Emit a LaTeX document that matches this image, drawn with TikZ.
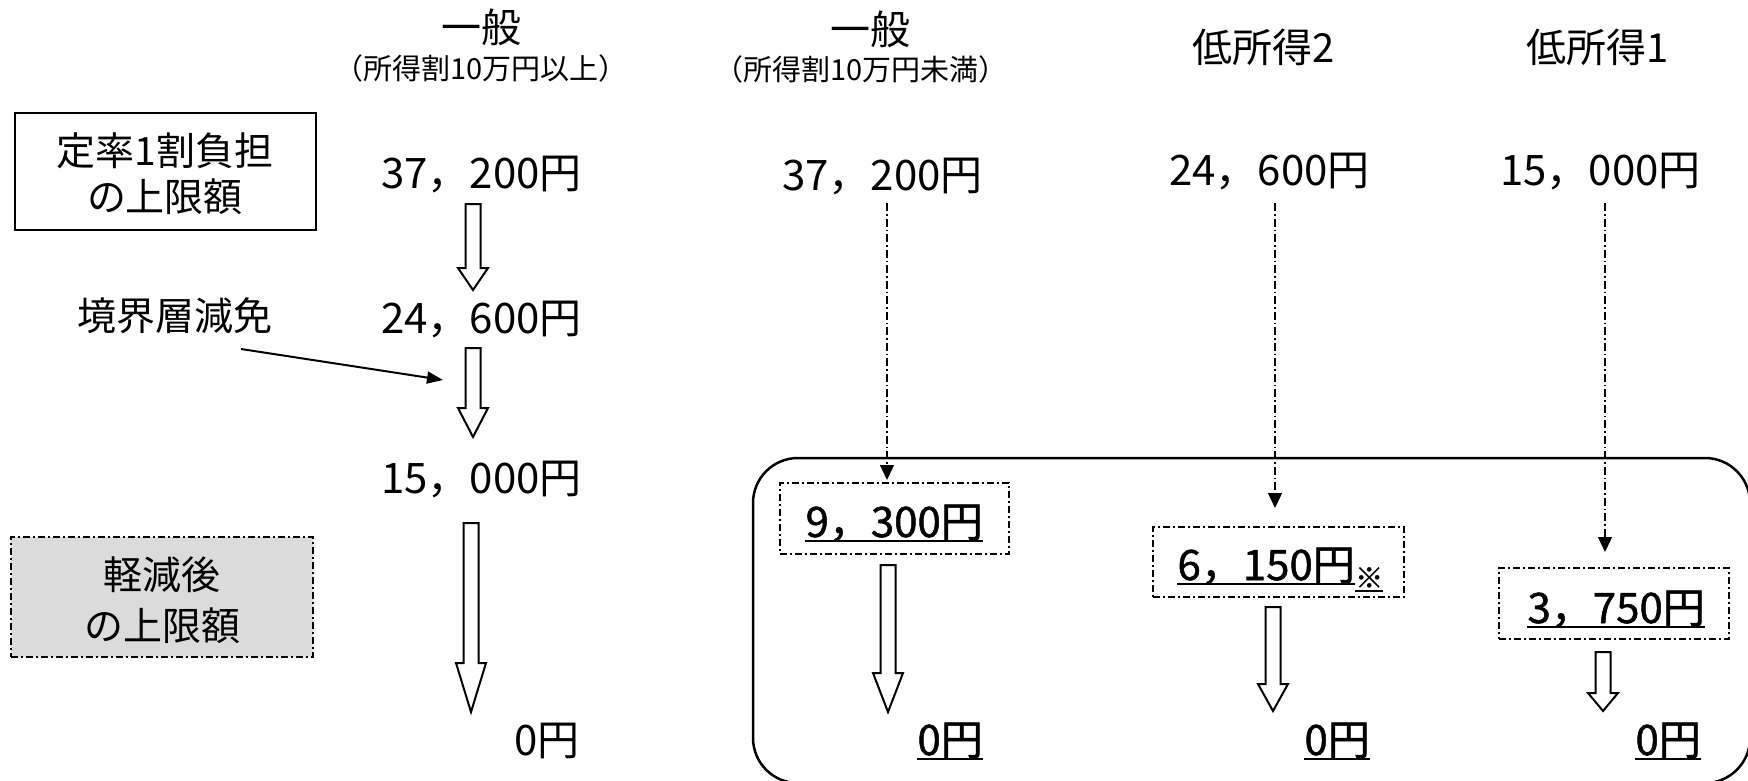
\documentclass[tikz,border=0pt]{standalone}
\usepackage{fontspec}
\newfontfamily\jp{Noto Sans CJK JP}
\newfontfamily\jpm[FakeBold=1.2]{Noto Sans CJK JP}
\usetikzlibrary{arrows.meta}
\tikzset{
  txt/.style={inner sep=0pt, font=\jp\fontsize{40}{46}\selectfont},
  sub/.style={inner sep=0pt, font=\jp\fontsize{29}{34}\selectfont},
  amt/.style={inner sep=0pt, anchor=base east, font=\jp\fontsize{42}{46}\selectfont},
  bamt/.style={inner sep=0pt, anchor=base east, font=\jpm\fontsize{42}{46}\selectfont},
  lbl/.style={inner sep=0pt, align=center, font=\jp\fontsize{39}{46}\selectfont},
  solidbox/.style={draw, line width=2pt},
  ddbox/.style={draw, line width=2.6pt, dash pattern=on 7pt off 3pt on 2pt off 3pt},
  ddline/.style={line width=1.4pt, dash pattern=on 8pt off 3pt on 1.5pt off 3pt,
     -{Triangle[length=15pt,width=14pt]}},
  hollow/.style={draw, line width=2pt, fill=white, line join=miter},
  uline/.style={line width=2.5pt},
  pointer/.style={line width=2pt, -{Triangle[length=16pt,width=12pt]}},
}
\newcommand\harrow[4]{%
  \draw[hollow] ({#1-7.5},{#2}) -- ({#1+7.5},{#2}) -- ({#1+7.5},{#3-#4}) -- ({#1+15},{#3-#4})
    -- ({#1},{#3}) -- ({#1-15},{#3-#4}) -- ({#1-7.5},{#3-#4}) -- cycle;}
\newcommand\uln[1]{\draw[uline] ([yshift=-4pt]#1.base west) -- ([yshift=-4pt]#1.base east);}
\begin{document}
\begin{tikzpicture}[x=1pt,y=-1pt]
\useasboundingbox (0,0) rectangle (1748,781);
\fill[white] (0,0) rectangle (1748,781);

% big rounded frame
\draw[line width=2.5pt, rounded corners=45pt] (753,458) rectangle (1750,783);

% column titles
\node[txt] (t1a) at (481,27) {一般};
\node[sub] (t1b) at (481,68) {（所得割10万円以上）};
\node[txt] (t2a) at (870,29) {一般};
\node[sub] (t2b) at (861,69) {（所得割10万円未満）};
\node[txt] (t3) at (1264,47) {低所得2};
\node[txt] (t4) at (1598,47) {低所得1};

% left labels
\node[solidbox, minimum width=301pt, minimum height=117pt] (bx1) at (165.5,171.5) {};
\node[lbl] (bx1t) at (165,174) {定率1割負担\\の上限額};
\node[ddbox, fill=black!14, minimum width=302pt, minimum height=120pt] (bx2) at (162,597) {};
\node[lbl, font=\jp\fontsize{39}{51}\selectfont] (bx2t) at (162,600) {軽減後\\の上限額};
\node[lbl] (kk) at (175,316) {境界層減免};
\coordinate (kks) at (241,349);
\coordinate (kke) at (443,380);
\draw[pointer] (kks) -- (kke);

% column 1
\node[amt] (a11) at (582,188) {37，200円};
\node[amt] (a12) at (582,333) {24，600円};
\node[amt] (a13) at (582,493) {15，000円};
\node[amt] (a14) at (580,755) {0円};
\harrow{473}{204}{290}{22}
\harrow{473}{348}{437}{29}
\harrow{471}{523}{712}{49}

% column 2
\node[amt] (a21) at (983,190) {37，200円};
\node[ddbox, minimum width=229pt, minimum height=71pt] (b2) at (894.5,518.5) {};
\node[bamt] (b2t) at (983,537) {9，300円};
\uln{b2t}
\node[bamt] (a22) at (983,755) {0円};
\uln{a22}
\coordinate (s2) at (887,203);
\coordinate (e2) at (887,480);
\draw[ddline] (s2) -- (e2);
\harrow{888}{565}{712}{39}

% column 3
\node[amt] (a31) at (1370,185) {24，600円};
\node[ddbox, minimum width=251pt, minimum height=70pt] (b3) at (1278.5,562) {};
\node[bamt] (b3t) at (1355,580) {6，150円};
\uln{b3t}
\node[inner sep=0pt, anchor=base west, font=\jpm\fontsize{28}{30}\selectfont] (b3n) at (1355,588) {※};
\draw[line width=2pt] ([yshift=-3pt]b3n.base west) -- ([yshift=-3pt]b3n.base east);
\node[bamt] (a32) at (1370,755) {0円};
\uln{a32}
\coordinate (s3) at (1275,203);
\coordinate (e3) at (1275,508);
\draw[ddline] (s3) -- (e3);
\harrow{1273}{607}{711}{27}

% column 4
\node[amt] (a41) at (1701,185) {15，000円};
\node[ddbox, minimum width=230pt, minimum height=71pt] (b4) at (1614,603.5) {};
\node[bamt] (b4t) at (1705,623) {3，750円};
\uln{b4t}
\node[bamt] (a42) at (1701,755) {0円};
\uln{a42}
\coordinate (s4) at (1605,203);
\coordinate (e4) at (1605,552);
\draw[ddline] (s4) -- (e4);
\harrow{1603}{652}{711}{18}
\end{tikzpicture}
\end{document}
